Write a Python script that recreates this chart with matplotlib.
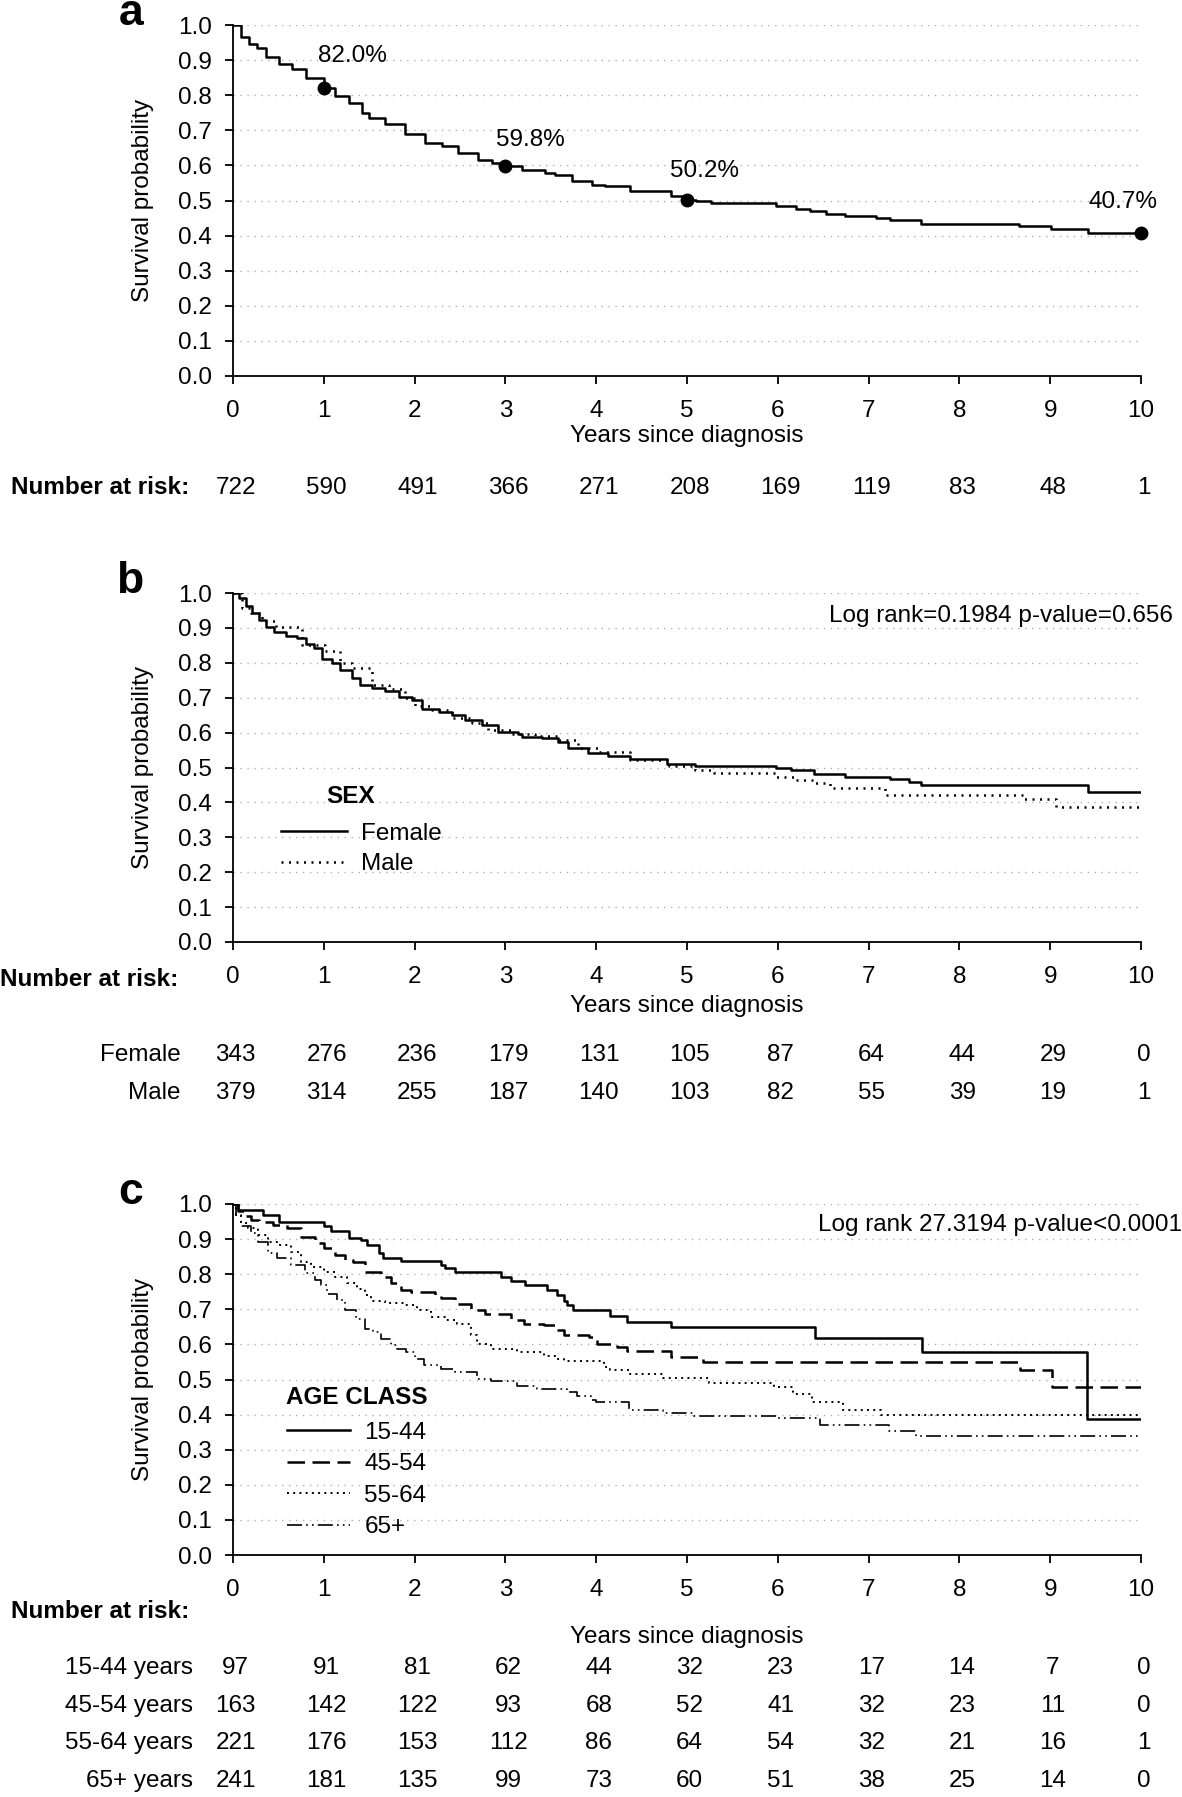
import numpy as np
import matplotlib
matplotlib.use("Agg")
import matplotlib.pyplot as plt
from matplotlib.transforms import blended_transform_factory

plt.rcParams['font.family'] = ['Liberation Sans', 'DejaVu Sans']
FS = 17.5
plt.rcParams['font.size'] = FS

years = list(range(11))

# panel a: overall survival
all_t = [0, 0.084, 0.176, 0.267, 0.359, 0.505, 0.652, 0.799, 1.0, 1.128, 1.275, 1.421, 1.495,
         1.678, 1.897, 2.117, 2.30, 2.48, 2.70, 2.85, 3.0, 3.18, 3.44, 3.55, 3.73, 3.95, 4.10,
         4.37, 4.82, 5.0, 5.1, 5.26, 5.98, 6.2, 6.36, 6.53, 6.74, 7.08, 7.24, 7.58, 8.66, 9.01,
         9.42, 10]
all_s = [1.0, 0.965, 0.946, 0.934, 0.910, 0.889, 0.874, 0.850, 0.820, 0.798, 0.779, 0.750, 0.736,
         0.717, 0.689, 0.665, 0.655, 0.636, 0.615, 0.608, 0.598, 0.586, 0.579, 0.574, 0.555,
         0.544, 0.540, 0.527, 0.512, 0.502, 0.498, 0.493, 0.485, 0.476, 0.470, 0.462, 0.455,
         0.450, 0.444, 0.434, 0.427, 0.419, 0.407, 0.407]
mark_t = [1, 3, 5, 10]
mark_s = [0.820, 0.598, 0.502, 0.407]
mark_lbl = ["82.0%", "59.8%", "50.2%", "40.7%"]
risk_all = [722, 590, 491, 366, 271, 208, 169, 119, 83, 48, 1]

# panel b: by sex
fem_t = [0, 0.066, 0.139, 0.212, 0.286, 0.359, 0.45, 0.579, 0.707, 0.799, 0.89, 0.982, 1.092,
         1.183, 1.311, 1.403, 1.531, 1.678, 1.824, 1.97, 2.08, 2.264, 2.41, 2.557, 2.74, 2.92,
         3.14, 3.18, 3.40, 3.58, 3.69, 3.91, 4.13, 4.37, 4.78, 5.09, 5.98, 6.14, 6.4, 6.74, 7.24,
         7.44, 7.58, 9.42, 10]
fem_s = [1.0, 0.986, 0.962, 0.943, 0.923, 0.904, 0.888, 0.878, 0.871, 0.854, 0.842, 0.811, 0.799,
         0.780, 0.756, 0.737, 0.727, 0.720, 0.703, 0.694, 0.668, 0.660, 0.649, 0.636, 0.622,
         0.603, 0.596, 0.586, 0.584, 0.574, 0.555, 0.541, 0.533, 0.524, 0.510, 0.505, 0.499,
         0.493, 0.481, 0.474, 0.467, 0.459, 0.450, 0.429, 0.429]
male_t = [0, 0.103, 0.194, 0.322, 0.469, 0.762, 1.018, 1.183, 1.311, 1.531, 1.714, 1.897, 2.007,
          2.19, 2.41, 2.63, 2.81, 3.07, 3.33, 3.58, 3.80, 4.03, 4.37, 4.8, 5.09, 5.3, 5.98, 6.19,
          6.4, 6.57, 7.18, 8.7, 9.06, 10]
male_s = [1.0, 0.957, 0.943, 0.921, 0.904, 0.852, 0.833, 0.799, 0.785, 0.737, 0.725, 0.699, 0.675,
          0.665, 0.641, 0.627, 0.608, 0.596, 0.589, 0.579, 0.555, 0.543, 0.522, 0.503, 0.493,
          0.484, 0.472, 0.465, 0.455, 0.441, 0.422, 0.410, 0.387, 0.387]
risk_fem = [343, 276, 236, 179, 131, 105, 87, 64, 44, 29, 0]
risk_male = [379, 314, 255, 187, 140, 103, 82, 55, 39, 19, 1]

# panel c: by age class
a1_t = [0, 0.055, 0.33, 0.51, 1.007, 1.08, 1.28, 1.41, 1.48, 1.61, 1.65, 1.85, 2.29, 2.33, 2.45,
        2.95, 3.06, 3.22, 3.46, 3.57, 3.64, 3.68, 3.74, 4.15, 4.34, 4.82, 6.41, 7.59, 9.4, 10]
a1_s = [1.0, 0.984, 0.969, 0.950, 0.936, 0.922, 0.903, 0.898, 0.883, 0.860, 0.847, 0.838, 0.826,
        0.817, 0.805, 0.793, 0.780, 0.769, 0.755, 0.740, 0.723, 0.712, 0.697, 0.681, 0.664,
        0.650, 0.619, 0.579, 0.388, 0.388]
a2_t = [0, 0.055, 0.128, 0.2, 0.29, 0.44, 0.6, 0.75, 0.9, 1.0, 1.12, 1.23, 1.32, 1.45, 1.63, 1.74,
        1.85, 1.96, 2.22, 2.29, 2.44, 2.62, 2.77, 3.06, 3.21, 3.42, 3.57, 3.64, 3.92, 4.01, 4.23,
        4.34, 4.82, 5.18, 8.67, 9.02, 10]
a2_s = [1.0, 0.979, 0.965, 0.955, 0.948, 0.941, 0.931, 0.907, 0.888, 0.874, 0.855, 0.840, 0.836,
        0.807, 0.793, 0.774, 0.755, 0.748, 0.740, 0.731, 0.716, 0.697, 0.688, 0.669, 0.659,
        0.654, 0.640, 0.628, 0.621, 0.602, 0.592, 0.581, 0.564, 0.550, 0.526, 0.480, 0.480]
a3_t = [0, 0.037, 0.09, 0.165, 0.275, 0.385, 0.49, 0.64, 0.75, 0.86, 1.0, 1.12, 1.26, 1.37, 1.45,
        1.52, 1.67, 1.89, 2.03, 2.18, 2.33, 2.47, 2.62, 2.69, 2.84, 3.13, 3.42, 3.57, 3.64, 4.09,
        4.15, 4.36, 4.74, 5.24, 5.96, 6.17, 6.38, 6.72, 7.14, 10]
a3_s = [1.0, 0.969, 0.946, 0.931, 0.912, 0.893, 0.883, 0.864, 0.836, 0.821, 0.807, 0.793, 0.776,
        0.759, 0.740, 0.723, 0.719, 0.712, 0.697, 0.678, 0.669, 0.659, 0.626, 0.602, 0.587,
        0.578, 0.568, 0.559, 0.554, 0.536, 0.526, 0.516, 0.505, 0.490, 0.478, 0.459, 0.435,
        0.413, 0.399, 0.399]
a4_t = [0, 0.037, 0.09, 0.2, 0.275, 0.385, 0.49, 0.64, 0.79, 0.9, 0.97, 1.04, 1.15, 1.23, 1.36,
        1.45, 1.54, 1.63, 1.74, 1.81, 1.9, 2.0, 2.1, 2.29, 2.44, 2.69, 2.84, 3.13, 3.35, 3.68,
        3.79, 3.94, 4.0, 4.36, 4.74, 5.08, 5.98, 6.47, 7.23, 7.52, 10]
a4_s = [1.0, 0.965, 0.936, 0.917, 0.893, 0.860, 0.845, 0.826, 0.802, 0.783, 0.769, 0.745, 0.726,
        0.697, 0.673, 0.645, 0.635, 0.616, 0.597, 0.587, 0.578, 0.559, 0.540, 0.530, 0.521,
        0.501, 0.497, 0.482, 0.473, 0.463, 0.454, 0.442, 0.435, 0.413, 0.404, 0.396, 0.389,
        0.369, 0.352, 0.340, 0.340]
age_labels = ["15-44", "45-54", "55-64", "65+"]
risk_age = [[97, 91, 81, 62, 44, 32, 23, 17, 14, 7, 0],
            [163, 142, 122, 93, 68, 52, 41, 32, 23, 11, 0],
            [221, 176, 153, 112, 86, 64, 54, 32, 21, 16, 1],
            [241, 181, 135, 99, 73, 60, 51, 38, 25, 14, 0]]

W, H = 1182, 1797
fig = plt.figure(figsize=(W / 100, H / 100), dpi=100)


def fy(px):
    # figure fraction from pixel row
    return 1 - px / H


def make_axes(top, bottom, letter):
    ax = fig.add_axes([233 / W, fy(bottom), (1141 - 233) / W, (bottom - top) / H])
    ax.set_xlim(0, 10)
    ax.set_ylim(0, 1.0)
    ax.set_xticks(years)
    ticks = np.arange(0, 1.01, 0.1)
    ax.set_yticks(ticks)
    ax.set_yticklabels(["%.1f" % v for v in ticks])
    for y in ticks[1:]:
        ax.axhline(y, color="#b0b0b0", lw=1.0, ls=(0, (1, 4)), zorder=0)
    ax.spines["top"].set_visible(False)
    ax.spines["right"].set_visible(False)
    ax.spines["left"].set_linewidth(1.3)
    ax.spines["bottom"].set_linewidth(1.3)
    ax.tick_params(direction="out", length=6, width=1.3, labelsize=FS)
    ax.tick_params(axis="x", pad=11)
    ax.tick_params(axis="y", pad=9)
    ax.set_ylabel("Survival probability", fontsize=FS)
    ax.yaxis.label.set_va("center")
    ax.yaxis.set_label_coords(-0.099, 0.5)
    ax.set_xlabel("Years since diagnosis", fontsize=FS)
    ax.xaxis.label.set_va("center")
    ax.text(-0.099, 1.0, letter, transform=ax.transAxes, fontsize=32, fontweight="bold",
            ha="right", va="baseline")
    return ax


def row(ax, ypx, values, label=None, lx=None):
    tr = blended_transform_factory(ax.transData, fig.transFigure)
    for x, v in zip(years, values):
        ax.text(x + 0.03, fy(ypx), str(v), transform=tr, ha="center", va="center",
                fontsize=FS, clip_on=False)
    if label is not None:
        fig.text(lx / W, fy(ypx), label, ha="right", va="center", fontsize=FS)


lw = 1.8

# ---- a ----
ax = make_axes(25, 376, "a")
ax.step(all_t, all_s, where="post", color="black", lw=lw)
ax.plot(mark_t, mark_s, "o", color="black", ms=9, clip_on=False, zorder=5)
lbl_dx = [0.32, 0.28, 0.19, -0.2]
lbl_dy = [0.091, 0.074, 0.082, 0.09]
for t, s, l, dx, dy in zip(mark_t, mark_s, mark_lbl, lbl_dx, lbl_dy):
    ax.text(t + dx, s + dy, l, ha="center", va="center", fontsize=FS)
ax.xaxis.set_label_coords(0.5, -60 / 351)
fig.text(11 / W, fy(487), "Number at risk:", ha="left", va="center", fontsize=FS,
         fontweight="bold")
row(ax, 488, risk_all)

# ---- b ----
ax = make_axes(593, 942, "b")
l1, = ax.step(fem_t, fem_s, where="post", color="black", lw=lw, label="Female")
l2, = ax.step(male_t, male_s, where="post", color="black", lw=lw, ls=(0, (0.8, 2.2)),
              label="Male")
ax.legend(handles=[l1, l2], loc="center left", bbox_to_anchor=(0.053, 0.266),
          frameon=False, fontsize=FS, handlelength=2.7, handletextpad=0.6,
          labelspacing=0.35, borderpad=0, borderaxespad=0)
ax.text(0.130, 0.417, "SEX", transform=ax.transAxes, ha="center", va="center",
        fontsize=FS, fontweight="bold")
ax.text(10.35, 0.935, "Log rank=0.1984 p-value=0.656", ha="right", va="center", fontsize=FS)
ax.xaxis.set_label_coords(0.5, -64 / 349)
fig.text(0, fy(980), "Number at risk:", ha="left", va="center", fontsize=FS,
         fontweight="bold")
row(ax, 1055, risk_fem, "Female", 181)
row(ax, 1093, risk_male, "Male", 181)

# ---- c ----
ax = make_axes(1204, 1555, "c")
styles = [dict(ls="-", lw=lw),
          dict(ls=(0, (7, 3)), lw=lw),
          dict(ls=(0, (1, 2.2)), lw=1.4),
          dict(ls=(0, (9, 2.5, 1, 2.5, 1, 2.5)), lw=1.2)]
curves = [(a1_t, a1_s), (a2_t, a2_s), (a3_t, a3_s), (a4_t, a4_s)]
handles = []
for (t, s), st, lab in zip(curves, styles, age_labels):
    h, = ax.step(t, s, where="post", color="black", label=lab, **st)
    handles.append(h)
ax.legend(handles=handles, loc="center left", bbox_to_anchor=(0.059, 0.214),
          frameon=False, fontsize=FS, handlelength=2.6, handletextpad=0.6,
          labelspacing=0.39, borderpad=0, borderaxespad=0)
ax.text(0.136, 0.448, "AGE CLASS", transform=ax.transAxes, ha="center", va="center",
        fontsize=FS, fontweight="bold")
ax.text(10.45, 0.94, "Log rank 27.3194 p-value<0.0001", ha="right", va="center", fontsize=FS)
ax.xaxis.set_label_coords(0.5, -82 / 351)
fig.text(11 / W, fy(1612), "Number at risk:", ha="left", va="center", fontsize=FS,
         fontweight="bold")
rows_y = [1668, 1706, 1743, 1781]
for yy, vals, lab in zip(rows_y, risk_age, age_labels):
    row(ax, yy, vals, lab + " years", 193)

fig.savefig("out.png", dpi=100)
